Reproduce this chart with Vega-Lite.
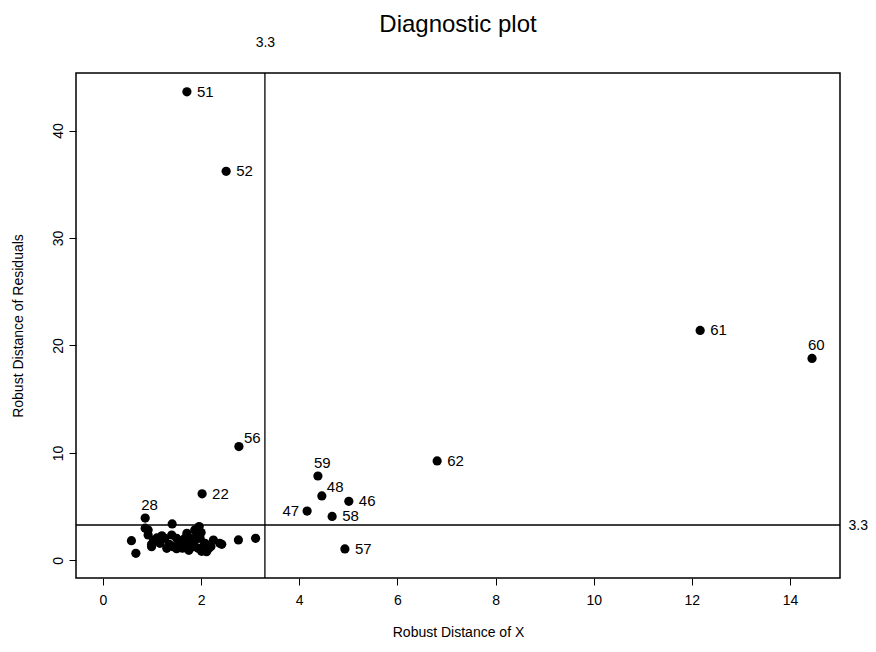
{
  "$schema": "https://vega.github.io/schema/vega-lite/v6.json",
  "autosize": {"type": "none"},
  "width": 764,
  "height": 505,
  "padding": {"left": 76, "top": 73, "right": 36, "bottom": 74},
  "background": "white",
  "config": {
    "font": "Liberation Sans",
    "view": {"stroke": "black", "strokeWidth": 1.5},
    "axis": {"grid": false, "domain": false, "tickColor": "black", "labelColor": "black", "titleColor": "black", "labelFont": "Liberation Sans", "titleFont": "Liberation Sans", "titleFontWeight": "normal", "labelFontSize": 14, "titleFontSize": 14}
  },
  "title": {"text": "Diagnostic plot", "fontSize": 24, "fontWeight": "normal", "font": "Liberation Sans", "anchor": "middle", "offset": -2, "color": "black"},
  "datasets": {
    "obs": [
      {"id": 1, "rdx": 0.58, "rdr": 1.84},
      {"id": 2, "rdx": 0.67, "rdr": 0.67},
      {"id": 3, "rdx": 0.86, "rdr": 3.0},
      {"id": 4, "rdx": 0.92, "rdr": 2.84},
      {"id": 5, "rdx": 0.92, "rdr": 2.37},
      {"id": 6, "rdx": 1.03, "rdr": 1.9},
      {"id": 7, "rdx": 0.99, "rdr": 1.5},
      {"id": 8, "rdx": 0.99, "rdr": 1.28},
      {"id": 9, "rdx": 1.16, "rdr": 1.6},
      {"id": 10, "rdx": 1.1, "rdr": 2.1},
      {"id": 11, "rdx": 1.26, "rdr": 2.06},
      {"id": 12, "rdx": 1.3, "rdr": 1.13},
      {"id": 13, "rdx": 1.41, "rdr": 3.4},
      {"id": 14, "rdx": 1.4, "rdr": 2.37},
      {"id": 15, "rdx": 1.43, "rdr": 1.28},
      {"id": 16, "rdx": 1.5, "rdr": 2.06},
      {"id": 17, "rdx": 1.57, "rdr": 1.44},
      {"id": 18, "rdx": 1.55, "rdr": 1.75},
      {"id": 19, "rdx": 1.67, "rdr": 2.06},
      {"id": 20, "rdx": 1.71, "rdr": 1.28},
      {"id": 21, "rdx": 1.64, "rdr": 1.91},
      {"id": 22, "rdx": 2.02, "rdr": 6.2},
      {"id": 23, "rdx": 1.71, "rdr": 2.53},
      {"id": 24, "rdx": 1.77, "rdr": 2.06},
      {"id": 25, "rdx": 1.62, "rdr": 1.15},
      {"id": 26, "rdx": 1.84, "rdr": 1.28},
      {"id": 27, "rdx": 1.87, "rdr": 2.84},
      {"id": 28, "rdx": 0.86, "rdr": 3.95},
      {"id": 29, "rdx": 1.91, "rdr": 2.37},
      {"id": 30, "rdx": 1.96, "rdr": 3.15},
      {"id": 31, "rdx": 1.98, "rdr": 2.06},
      {"id": 32, "rdx": 1.94, "rdr": 1.13},
      {"id": 33, "rdx": 2.04, "rdr": 1.28},
      {"id": 34, "rdx": 2.01, "rdr": 0.85},
      {"id": 35, "rdx": 2.11, "rdr": 0.82},
      {"id": 36, "rdx": 2.08, "rdr": 1.6},
      {"id": 37, "rdx": 2.25, "rdr": 1.9},
      {"id": 38, "rdx": 2.38, "rdr": 1.6},
      {"id": 39, "rdx": 2.42, "rdr": 1.5},
      {"id": 40, "rdx": 2.76, "rdr": 1.91},
      {"id": 41, "rdx": 3.11, "rdr": 2.06},
      {"id": 42, "rdx": 1.35, "rdr": 1.5},
      {"id": 43, "rdx": 1.8, "rdr": 1.6},
      {"id": 44, "rdx": 2.15, "rdr": 1.1},
      {"id": 45, "rdx": 1.2, "rdr": 2.3},
      {"id": 46, "rdx": 5.01, "rdr": 5.5},
      {"id": 47, "rdx": 4.16, "rdr": 4.6},
      {"id": 48, "rdx": 4.46, "rdr": 6.0},
      {"id": 49, "rdx": 1.88, "rdr": 1.9},
      {"id": 50, "rdx": 2.0, "rdr": 2.6},
      {"id": 51, "rdx": 1.71, "rdr": 43.6},
      {"id": 52, "rdx": 2.51, "rdr": 36.2},
      {"id": 53, "rdx": 1.5, "rdr": 1.1},
      {"id": 54, "rdx": 1.75, "rdr": 0.95},
      {"id": 55, "rdx": 2.2, "rdr": 1.3},
      {"id": 56, "rdx": 2.77, "rdr": 10.6},
      {"id": 57, "rdx": 4.93, "rdr": 1.07},
      {"id": 58, "rdx": 4.67, "rdr": 4.1},
      {"id": 59, "rdx": 4.38, "rdr": 7.86},
      {"id": 60, "rdx": 14.45, "rdr": 18.8},
      {"id": 61, "rdx": 12.17, "rdr": 21.4},
      {"id": 62, "rdx": 6.81, "rdr": 9.26}
    ],
    "cutoff": [{"cut": 3.3}]
  },
  "resolve": {"axis": {"x": "independent", "y": "independent"}},
  "layer": [
    {
      "data": {"name": "obs"},
      "mark": {"type": "circle", "size": 85, "color": "black", "opacity": 1},
      "encoding": {
        "x": {"field": "rdx", "type": "quantitative", "scale": {"domain": [-0.55, 15.02], "nice": false, "zero": false},
              "axis": {"orient": "bottom", "title": "Robust Distance of X", "values": [0, 2, 4, 6, 8, 10, 12, 14], "tickSize": 7, "labelPadding": 8, "titlePadding": 18, "labelFlush": false}},
        "y": {"field": "rdr", "type": "quantitative", "scale": {"domain": [-1.63, 45.35], "nice": false, "zero": false},
              "axis": {"orient": "left", "title": "Robust Distance of Residuals", "values": [0, 10, 20, 30, 40], "tickSize": 7, "labelAngle": -90, "labelPadding": 4, "titlePadding": 26, "labelFlush": false}}
      }
    },
    {
      "data": {"name": "obs"},
      "transform": [{"filter": {"field": "id", "oneOf": [51, 52, 61, 62, 22, 57, 58, 46]}}],
      "mark": {"type": "text", "align": "left", "baseline": "middle", "dx": 10, "fontSize": 15, "color": "black"},
      "encoding": {"x": {"field": "rdx", "type": "quantitative", "axis": null}, "y": {"field": "rdr", "type": "quantitative", "axis": null}, "text": {"field": "id"}}
    },
    {
      "data": {"name": "obs"},
      "transform": [{"filter": {"field": "id", "oneOf": [47]}}],
      "mark": {"type": "text", "align": "right", "baseline": "middle", "dx": -8, "fontSize": 15, "color": "black"},
      "encoding": {"x": {"field": "rdx", "type": "quantitative", "axis": null}, "y": {"field": "rdr", "type": "quantitative", "axis": null}, "text": {"field": "id"}}
    },
    {
      "data": {"name": "obs"},
      "transform": [{"filter": {"field": "id", "oneOf": [59, 28, 60]}}],
      "mark": {"type": "text", "align": "left", "baseline": "alphabetic", "dx": -4, "dy": -8, "fontSize": 15, "color": "black"},
      "encoding": {"x": {"field": "rdx", "type": "quantitative", "axis": null}, "y": {"field": "rdr", "type": "quantitative", "axis": null}, "text": {"field": "id"}}
    },
    {
      "data": {"name": "obs"},
      "transform": [{"filter": {"field": "id", "oneOf": [56, 48]}}],
      "mark": {"type": "text", "align": "left", "baseline": "middle", "dx": 5, "dy": -9, "fontSize": 15, "color": "black"},
      "encoding": {"x": {"field": "rdx", "type": "quantitative", "axis": null}, "y": {"field": "rdr", "type": "quantitative", "axis": null}, "text": {"field": "id"}}
    },
    {
      "data": {"name": "cutoff"},
      "mark": {"type": "rule", "color": "black", "strokeWidth": 1.3},
      "encoding": {
        "x": {"field": "cut", "type": "quantitative", "axis": {"orient": "top", "title": null, "values": [3.3], "format": ".1f", "ticks": false, "labelPadding": 24, "labelFontSize": 14}}
      }
    },
    {
      "data": {"name": "cutoff"},
      "mark": {"type": "rule", "color": "black", "strokeWidth": 1.3},
      "encoding": {
        "y": {"field": "cut", "type": "quantitative", "axis": {"orient": "right", "title": null, "values": [3.3], "format": ".1f", "ticks": false, "labelPadding": 8, "labelFontSize": 14, "labelAngle": 0, "labelAlign": "left", "labelBaseline": "middle"}}
      }
    }
  ]
}
